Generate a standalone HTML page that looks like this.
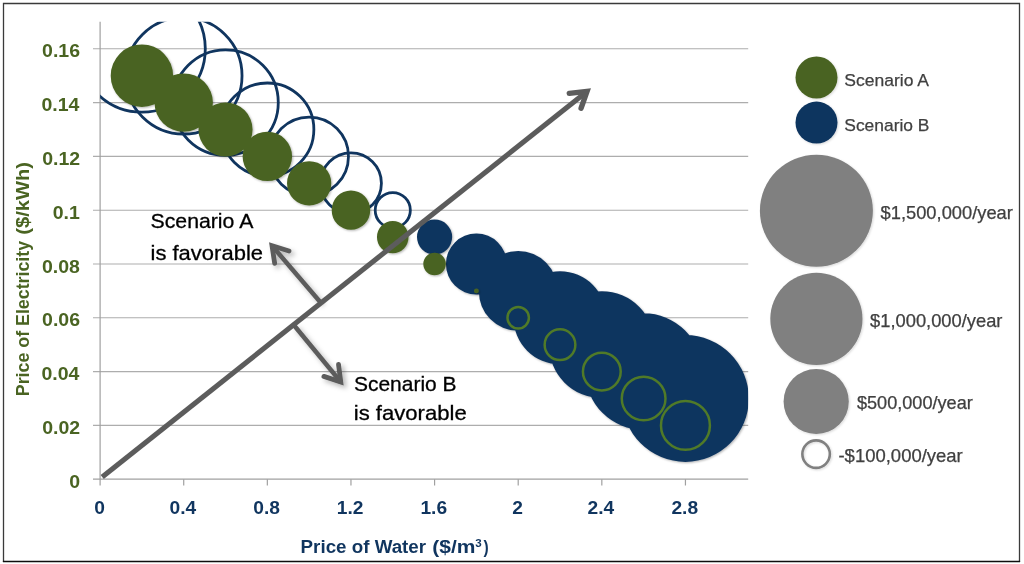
<!DOCTYPE html>
<html><head><meta charset="utf-8"><title>Bubble chart</title>
<style>html,body{margin:0;padding:0;background:#fff;width:1024px;height:564px;overflow:hidden}svg{display:block;will-change:transform}</style>
</head><body>
<svg width="1024" height="564" viewBox="0 0 1024 564">
<defs>
<clipPath id="pa"><rect x="100.1" y="21.8" width="648.1" height="457.4"/></clipPath>
<filter id="sh" x="-20%" y="-20%" width="140%" height="140%"><feGaussianBlur in="SourceAlpha" stdDeviation="2.5"/><feOffset dx="2.5" dy="2.5" result="b"/><feFlood flood-color="#000" flood-opacity="0.28"/><feComposite in2="b" operator="in"/><feMerge><feMergeNode/><feMergeNode in="SourceGraphic"/></feMerge></filter>
<filter id="sh2" x="-20%" y="-20%" width="140%" height="140%"><feGaussianBlur in="SourceAlpha" stdDeviation="1.2"/><feOffset dx="0.8" dy="0.8" result="b"/><feFlood flood-color="#000" flood-opacity="0.15"/><feComposite in2="b" operator="in"/><feMerge><feMergeNode/><feMergeNode in="SourceGraphic"/></feMerge></filter>
<filter id="sh3" x="-10%" y="-10%" width="120%" height="125%"><feGaussianBlur in="SourceAlpha" stdDeviation="1.3"/><feOffset dx="0.6" dy="1.4" result="b"/><feFlood flood-color="#000" flood-opacity="0.3"/><feComposite in2="b" operator="in"/><feMerge><feMergeNode/><feMergeNode in="SourceGraphic"/></feMerge></filter>
</defs>
<rect x="0" y="0" width="1024" height="564" fill="#fff"/>
<path d="M3.5,562V3.5H1019.5V562" fill="none" stroke="#3a3a3a" stroke-width="1.3"/><line x1="2.9" y1="561.5" x2="1020.1" y2="561.5" stroke="#0e0e0e" stroke-width="1.3"/>
<line x1="93" y1="425.40" x2="748.2" y2="425.40" stroke="#adadad" stroke-width="1.1"/>
<line x1="93" y1="371.60" x2="748.2" y2="371.60" stroke="#adadad" stroke-width="1.1"/>
<line x1="93" y1="317.80" x2="748.2" y2="317.80" stroke="#adadad" stroke-width="1.1"/>
<line x1="93" y1="264.00" x2="748.2" y2="264.00" stroke="#adadad" stroke-width="1.1"/>
<line x1="93" y1="210.20" x2="748.2" y2="210.20" stroke="#adadad" stroke-width="1.1"/>
<line x1="93" y1="156.40" x2="748.2" y2="156.40" stroke="#adadad" stroke-width="1.1"/>
<line x1="93" y1="102.60" x2="748.2" y2="102.60" stroke="#adadad" stroke-width="1.1"/>
<line x1="93" y1="48.80" x2="748.2" y2="48.80" stroke="#adadad" stroke-width="1.1"/>
<line x1="100.10" y1="21.8" x2="100.10" y2="485.5" stroke="#a0a0a0" stroke-width="1.2"/>
<line x1="93" y1="479.2" x2="748.2" y2="479.2" stroke="#a0a0a0" stroke-width="1.2"/>
<line x1="183.72" y1="479.2" x2="183.72" y2="485.5" stroke="#a0a0a0" stroke-width="1.2"/>
<line x1="267.34" y1="479.2" x2="267.34" y2="485.5" stroke="#a0a0a0" stroke-width="1.2"/>
<line x1="350.96" y1="479.2" x2="350.96" y2="485.5" stroke="#a0a0a0" stroke-width="1.2"/>
<line x1="434.58" y1="479.2" x2="434.58" y2="485.5" stroke="#a0a0a0" stroke-width="1.2"/>
<line x1="518.20" y1="479.2" x2="518.20" y2="485.5" stroke="#a0a0a0" stroke-width="1.2"/>
<line x1="601.82" y1="479.2" x2="601.82" y2="485.5" stroke="#a0a0a0" stroke-width="1.2"/>
<line x1="685.44" y1="479.2" x2="685.44" y2="485.5" stroke="#a0a0a0" stroke-width="1.2"/>
<g clip-path="url(#pa)"><circle cx="141.91" cy="48.80" r="63.39" fill="none" stroke="#10355f" stroke-width="2.8"/><circle cx="183.72" cy="75.70" r="58.31" fill="none" stroke="#10355f" stroke-width="2.8"/><circle cx="225.53" cy="102.60" r="52.75" fill="none" stroke="#10355f" stroke-width="2.8"/><circle cx="267.34" cy="129.50" r="46.52" fill="none" stroke="#10355f" stroke-width="2.8"/><circle cx="309.15" cy="156.40" r="39.32" fill="none" stroke="#10355f" stroke-width="2.8"/><circle cx="350.96" cy="183.30" r="30.45" fill="none" stroke="#10355f" stroke-width="2.8"/><circle cx="392.77" cy="210.20" r="17.58" fill="none" stroke="#10355f" stroke-width="2.8"/><path d="M417.00,237.10a17.58,17.58 0 1,0 35.16,0a17.58,17.58 0 1,0 -35.16,0ZM445.94,264.00a30.45,30.45 0 1,0 60.91,0a30.45,30.45 0 1,0 -60.91,0ZM478.88,290.90a39.32,39.32 0 1,0 78.63,0a39.32,39.32 0 1,0 -78.63,0ZM513.49,317.80a46.52,46.52 0 1,0 93.04,0a46.52,46.52 0 1,0 -93.04,0ZM549.07,344.70a52.75,52.75 0 1,0 105.49,0a52.75,52.75 0 1,0 -105.49,0ZM585.32,371.60a58.31,58.31 0 1,0 116.63,0a58.31,58.31 0 1,0 -116.63,0ZM622.05,398.50a63.39,63.39 0 1,0 126.79,0a63.39,63.39 0 1,0 -126.79,0Z" fill="#10355f" filter="url(#sh3)"/><path d="M110.71,75.70a31.20,31.20 0 1,0 62.40,0a31.20,31.20 0 1,0 -62.40,0ZM154.52,102.60a29.20,29.20 0 1,0 58.40,0a29.20,29.20 0 1,0 -58.40,0ZM198.48,129.50a27.05,27.05 0 1,0 54.10,0a27.05,27.05 0 1,0 -54.10,0ZM242.63,156.40a24.71,24.71 0 1,0 49.43,0a24.71,24.71 0 1,0 -49.43,0ZM287.02,183.30a22.13,22.13 0 1,0 44.26,0a22.13,22.13 0 1,0 -44.26,0ZM331.75,210.20a19.21,19.21 0 1,0 38.41,0a19.21,19.21 0 1,0 -38.41,0ZM377.02,237.10a15.75,15.75 0 1,0 31.49,0a15.75,15.75 0 1,0 -31.49,0ZM423.31,264.00a11.27,11.27 0 1,0 22.54,0a11.27,11.27 0 1,0 -22.54,0ZM473.93,290.90a2.46,2.46 0 1,0 4.92,0a2.46,2.46 0 1,0 -4.92,0Z" fill="#4a6422" filter="url(#sh3)"/><circle cx="518.20" cy="317.80" r="10.72" fill="none" stroke="#507a28" stroke-width="2.5"/><circle cx="560.01" cy="344.70" r="15.36" fill="none" stroke="#507a28" stroke-width="2.5"/><circle cx="601.82" cy="371.60" r="18.89" fill="none" stroke="#507a28" stroke-width="2.5"/><circle cx="643.63" cy="398.50" r="21.86" fill="none" stroke="#507a28" stroke-width="2.5"/><circle cx="685.44" cy="425.40" r="24.47" fill="none" stroke="#507a28" stroke-width="2.5"/></g>
<g font-family="Liberation Sans" font-weight="bold" font-size="19.2" fill="#4a6422"><text x="69.25" y="487.70" textLength="10.84" lengthAdjust="spacingAndGlyphs">0</text><text x="42.15" y="433.90" textLength="37.93" lengthAdjust="spacingAndGlyphs">0.02</text><text x="41.44" y="380.10" textLength="37.93" lengthAdjust="spacingAndGlyphs">0.04</text><text x="42.05" y="326.30" textLength="37.93" lengthAdjust="spacingAndGlyphs">0.06</text><text x="41.95" y="272.50" textLength="37.93" lengthAdjust="spacingAndGlyphs">0.08</text><text x="52.71" y="218.70" textLength="27.09" lengthAdjust="spacingAndGlyphs">0.1</text><text x="42.15" y="164.90" textLength="37.93" lengthAdjust="spacingAndGlyphs">0.12</text><text x="41.44" y="111.10" textLength="37.93" lengthAdjust="spacingAndGlyphs">0.14</text><text x="42.05" y="57.30" textLength="37.93" lengthAdjust="spacingAndGlyphs">0.16</text></g>
<g font-family="Liberation Sans" font-weight="bold" font-size="19.2" fill="#10355f"><text x="94.20" y="513.9">0</text><text x="169.47" y="513.9">0.4</text><text x="253.34" y="513.9">0.8</text><text x="336.81" y="513.9">1.2</text><text x="420.38" y="513.9">1.6</text><text x="512.30" y="513.9">2</text><text x="587.57" y="513.9">2.4</text><text x="671.44" y="513.9">2.8</text></g>
<g font-family="Liberation Sans" fill="#10355f"><text x="300.60" y="552.50" font-size="18.8" font-weight="bold" textLength="125.52" lengthAdjust="spacingAndGlyphs">Price of Water</text><text x="432.29" y="552.50" font-size="18.8" font-weight="bold" textLength="43.20" lengthAdjust="spacingAndGlyphs">($/m</text><text x="475.17" y="546.60" font-size="10.2" font-weight="bold" textLength="6.45" lengthAdjust="spacingAndGlyphs">3</text><text x="483.60" y="552.50" font-size="18.8" font-weight="bold" textLength="5.20" lengthAdjust="spacingAndGlyphs">)</text></g>
<g font-family="Liberation Sans" fill="#4a6422" transform="translate(28.8,395.1) rotate(-90)"><text x="-1.14" y="0.00" font-size="18.8" font-weight="bold" textLength="155.38" lengthAdjust="spacingAndGlyphs">Price of Electricity</text><text x="160.34" y="0.00" font-size="18.8" font-weight="bold" textLength="72.72" lengthAdjust="spacingAndGlyphs">($/kWh)</text></g>
<g filter="url(#sh)"><line x1="320.2" y1="302.0" x2="272.0" y2="245.7" stroke="#5c5c5c" stroke-width="4.5" stroke-linecap="butt"/><polyline points="274.7,263.3 272.0,245.7 289.0,251.0" fill="none" stroke="#5c5c5c" stroke-width="4.8" stroke-linecap="round" stroke-linejoin="miter"/><line x1="294.2" y1="325.5" x2="340.8" y2="382.0" stroke="#5c5c5c" stroke-width="4.5" stroke-linecap="butt"/><polyline points="338.5,364.4 340.8,382.0 323.9,376.4" fill="none" stroke="#5c5c5c" stroke-width="4.8" stroke-linecap="round" stroke-linejoin="miter"/></g>
<line x1="102.2" y1="477" x2="587.0" y2="91.4" stroke="#5c5c5c" stroke-width="5.1" stroke-linecap="butt"/><polyline points="569.3,93.4 587.0,91.4 581.1,108.2" fill="none" stroke="#5c5c5c" stroke-width="5.3999999999999995" stroke-linecap="round" stroke-linejoin="miter"/>
<g font-family="Liberation Sans" fill="#000" stroke="#000" stroke-width="0.3"><text x="150.58" y="228.30" font-size="20.8" textLength="102.73" lengthAdjust="spacingAndGlyphs">Scenario A</text><text x="150.52" y="260.20" font-size="20.8" textLength="112.50" lengthAdjust="spacingAndGlyphs">is favorable</text><text x="353.99" y="390.80" font-size="20.8" textLength="102.57" lengthAdjust="spacingAndGlyphs">Scenario B</text><text x="353.81" y="420.20" font-size="20.8" textLength="112.91" lengthAdjust="spacingAndGlyphs">is favorable</text></g>
<g filter="url(#sh2)"><circle cx="816.5" cy="77.5" r="21" fill="#4a6422"/><circle cx="816.5" cy="122.6" r="21" fill="#10355f"/><ellipse cx="816.4" cy="210.7" rx="56.5" ry="56.0" fill="#808080"/><circle cx="816.4" cy="318.9" r="46.1" fill="#808080"/><circle cx="816.2" cy="401.5" r="32.6" fill="#808080"/><circle cx="816.1" cy="454.1" r="13.75" fill="none" stroke="#808080" stroke-width="2.6"/></g>
<g font-family="Liberation Sans" fill="#404040" stroke="#404040" stroke-width="0.25"><text x="844.30" y="85.60" font-size="17.4" textLength="84.66" lengthAdjust="spacingAndGlyphs">Scenario A</text><text x="844.30" y="130.90" font-size="17.4" textLength="85.11" lengthAdjust="spacingAndGlyphs">Scenario B</text><text x="880.59" y="218.60" font-size="17.8" textLength="132.28" lengthAdjust="spacingAndGlyphs">$1,500,000/year</text><text x="870.09" y="326.70" font-size="17.8" textLength="132.38" lengthAdjust="spacingAndGlyphs">$1,000,000/year</text><text x="856.90" y="409.40" font-size="17.8" textLength="115.93" lengthAdjust="spacingAndGlyphs">$500,000/year</text><text x="838.47" y="462.20" font-size="17.8" textLength="124.29" lengthAdjust="spacingAndGlyphs">-$100,000/year</text></g>
</svg>
</body></html>
